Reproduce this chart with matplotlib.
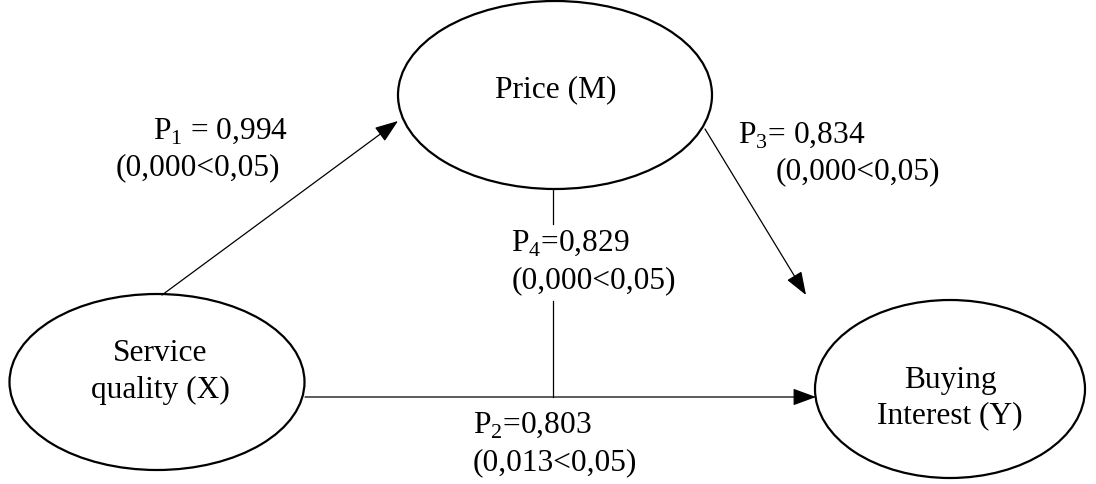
import matplotlib.pyplot as plt
from matplotlib.patches import Ellipse

plt.rcParams['font.family'] = 'Liberation Serif'
plt.rcParams['mathtext.fontset'] = 'custom'
plt.rcParams['mathtext.rm'] = 'Liberation Serif'

# variables
nodes = ['Price (M)', 'Service\nquality (X)', 'Buying\nInterest (Y)']
# path coefficients and significance
paths = ['P1', 'P2', 'P3', 'P4']
coef = ['0,994', '0,803', '0,834', '0,829']
sig = ['0,000', '0,013', '0,000', '0,000']
alpha = '0,05'

fig = plt.figure(figsize=(10.96, 4.85), dpi=100)
ax = fig.add_axes([0, 0, 1, 1])
ax.set_xlim(0, 1096)
ax.set_ylim(485, 0)
ax.axis('off')

fs = 22.6

# ellipses
ell = [(555, 96, 314, 188), (157, 383, 295, 176), (950, 390, 270, 178)]
for (cx, cy, w, h), name in zip(ell, nodes):
    ax.add_patch(Ellipse((cx, cy), w, h, fill=False, lw=1.6, ec='black'))
ax.text(556, 90, nodes[0], ha='center', va='center', fontsize=fs)
ax.text(160, 372, nodes[1], ha='center', va='center', fontsize=fs, linespacing=1.35)
ax.text(950, 398, nodes[2], ha='center', va='center', fontsize=fs, linespacing=1.25)

ap = dict(arrowstyle='-|>,head_length=0.6,head_width=0.22', mutation_scale=24,
          lw=0.9, color='black', shrinkA=0, shrinkB=0)
ax.annotate('', xy=(398, 122), xytext=(162, 296), arrowprops=ap)
ax.annotate('', xy=(806, 296), xytext=(705, 130), arrowprops=ap)
ax.annotate('', xy=(816, 398), xytext=(305, 398), arrowprops=ap)

# mediation line
ax.plot([553, 553], [190, 225], color='black', lw=0.9)
ax.plot([553, 553], [302, 398], color='black', lw=0.9)

def lab(i, eq):
    return r'P$_{\mathrm{' + paths[i][1] + '}}$' + eq + coef[i]

def sg(i):
    return '(' + sig[i] + '<' + alpha + ')'

ax.text(153, 131, lab(0, ' = '), ha='left', va='center', fontsize=fs)
ax.text(116, 168, sg(0), ha='left', va='center', fontsize=fs)
ax.text(738, 135, lab(2, '= '), ha='left', va='center', fontsize=fs)
ax.text(776, 172, sg(2), ha='left', va='center', fontsize=fs)
ax.text(511, 243, lab(3, '='), ha='left', va='center', fontsize=fs)
ax.text(512, 281, sg(3), ha='left', va='center', fontsize=fs)
ax.text(473, 425, lab(1, '='), ha='left', va='center', fontsize=fs)
ax.text(473, 463, sg(1), ha='left', va='center', fontsize=fs)

fig.savefig('out.png', dpi=100)
